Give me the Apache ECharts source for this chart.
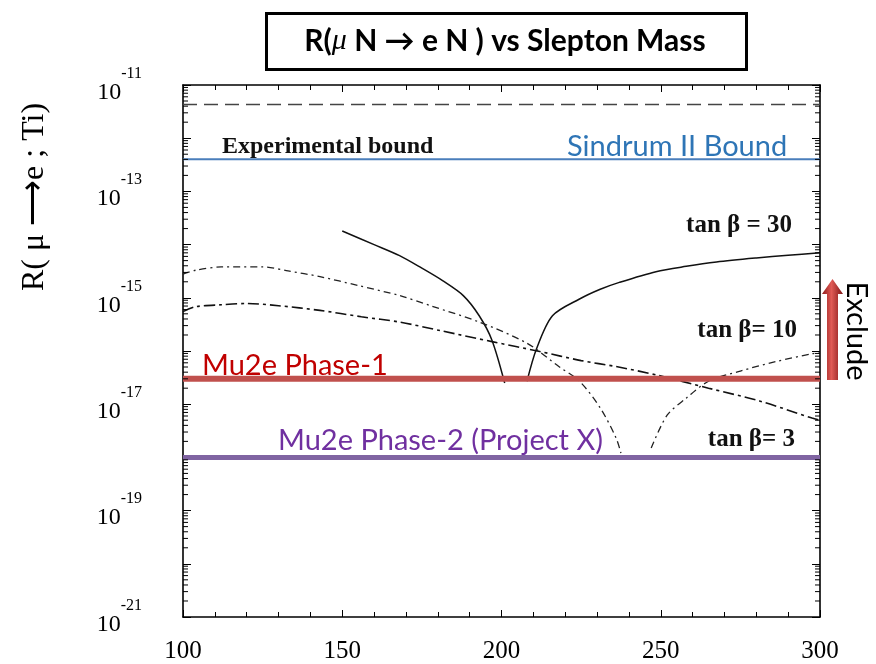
<!DOCTYPE html>
<html>
<head>
<meta charset="utf-8">
<script src="https://cdn.jsdelivr.net/npm/echarts@6/dist/echarts.min.js"></script>
<style>
  html, body { margin: 0; padding: 0; background: #fff; }
  #chart { width: 876px; height: 664px; }
</style>
</head>
<body>
<div id="chart"></div>
<script>
'use strict';
/* R(mu N -> e N) vs slepton mass */

// slepton mass (GeV) and conversion rate
var massT30a = [150, 160, 168, 175, 181.5, 188, 193, 197, 201];
var rateT30a = [1.8e-14, 1.0e-14, 6.2e-15, 3.6e-15, 2.1e-15, 1.1e-15, 4.6e-16, 1.6e-16, 2.5e-17];
var massT30b = [208, 211, 216, 224.5, 231, 237, 248.5, 258, 267.5, 280, 290, 300];
var rateT30b = [2.7e-17, 1.1e-16, 4.6e-16, 9.5e-16, 1.45e-15, 1.95e-15, 3.1e-15, 3.9e-15, 4.7e-15, 5.6e-15, 6.3e-15, 7.0e-15];

var massT10a = [100, 104, 112, 125, 133, 143, 155, 168, 178, 193, 208, 218, 224.5, 231, 236, 237.5];
var rateT10a = [2.8e-15, 3.3e-15, 3.8e-15, 3.8e-15, 3.2e-15, 2.5e-15, 1.7e-15, 1.1e-15, 7.0e-16, 3.5e-16, 1.4e-16, 5.1e-17, 2.7e-17, 8.5e-18, 2.3e-18, 1.2e-18];
var massT10b = [247, 252, 258, 265, 275, 286, 297.5, 300];
var rateT10b = [1.5e-18, 6.2e-18, 1.3e-17, 2.7e-17, 4.2e-17, 6.3e-17, 8.9e-17, 9.3e-17];

var massT3 = [100, 104, 112, 120, 130, 143, 156, 168, 181, 197, 212, 225, 236, 249, 265, 281, 297.5, 300];
var rateT3 = [5.5e-16, 6.8e-16, 7.4e-16, 7.8e-16, 7.1e-16, 5.8e-16, 4.4e-16, 3.5e-16, 2.4e-16, 1.5e-16, 9.8e-17, 6.6e-17, 5.1e-17, 3.5e-17, 2.0e-17, 1.15e-17, 5.5e-18, 5.0e-18];

// horizontal bounds
var boundMass = [100, 300];
var expBound = 4.3e-12;
var sindrumBound = 4.0e-13;
var mu2ePhase1 = 3.0e-17;
var mu2ePhase2 = 1.0e-18;

// axis ranges (y in powers of ten)
var xMin = 100, xMax = 300;
var yMinExp = -21, yMaxExp = -11;

function lg(v) {
  return Math.log(v) / Math.LN10;
}

// log10 axis is drawn on the exponent
function pairs(xs, ys) {
  var out = [];
  for (var i = 0; i < xs.length; i++) {
    out.push([xs[i], lg(ys[i])]);
  }
  return out;
}

function flat(v) {
  return pairs(boundMass, [v, v]);
}

// log minor tick positions 2..9 within each decade
var minorTicks = [];
for (var d = yMinExp; d < yMaxExp; d++) {
  for (var k = 2; k <= 9; k++) {
    minorTicks.push(d + lg(k));
  }
}

var serif = 'Liberation Serif';
var sans = 'Lato';

var chart = echarts.init(document.getElementById('chart'));

function curve(data, color, width, dash) {
  return {
    type: 'line',
    data: data,
    showSymbol: false,
    symbol: 'none',
    smooth: 0.3,
    silent: true,
    z: 3,
    lineStyle: { color: color, width: width, type: dash }
  };
}

function hline(v, color, width, dash, z) {
  return {
    type: 'line',
    data: flat(v),
    showSymbol: false,
    symbol: 'none',
    silent: true,
    z: z,
    lineStyle: { color: color, width: width, type: dash }
  };
}

var tickStyle = { color: '#000', width: 1 };

var option = {
  backgroundColor: '#fff',
  animation: false,
  grid: { left: 183, right: 56, top: 85, bottom: 44 },
  xAxis: [{
    type: 'value',
    min: xMin, max: xMax, interval: 50,
    axisLine: { lineStyle: { color: '#000', width: 1.6 } },
    axisTick: { inside: true, length: 7, lineStyle: tickStyle },
    minorTick: { show: true, splitNumber: 5, length: 5, lineStyle: tickStyle },
    splitLine: { show: false },
    axisLabel: { margin: 22, color: '#000', fontFamily: serif, fontSize: 25 }
  }, {
    type: 'value', position: 'top',
    min: xMin, max: xMax, interval: 50,
    axisLine: { lineStyle: { color: '#000', width: 1.6 } },
    axisTick: { inside: true, length: 7, lineStyle: tickStyle },
    minorTick: { show: true, splitNumber: 5, length: 5, lineStyle: tickStyle },
    splitLine: { show: false },
    axisLabel: { show: false }
  }],
  yAxis: [{
    type: 'value',
    min: yMinExp, max: yMaxExp, interval: 1,
    axisLine: { lineStyle: { color: '#000', width: 1.6 } },
    axisTick: { inside: true, length: 8, lineStyle: tickStyle },
    splitLine: { show: false },
    axisLabel: {
      margin: 41, align: 'right',
      formatter: function (v) {
        if (Math.abs(v % 2) !== 1) return '';
        return '{b|10}{s|' + v + '}';
      },
      rich: {
        b: { fontFamily: serif, fontSize: 24, color: '#000', verticalAlign: 'bottom', padding: [15, 0, 0, 0] },
        s: { fontFamily: serif, fontSize: 16, color: '#000', verticalAlign: 'top' }
      }
    }
  }, {
    type: 'value', position: 'right',
    min: yMinExp, max: yMaxExp, interval: 1,
    axisLine: { lineStyle: { color: '#000', width: 1.6 } },
    axisTick: { inside: true, length: 8, lineStyle: tickStyle },
    splitLine: { show: false },
    axisLabel: { show: false }
  }],
  series: [
    {
      // log minor ticks on both sides
      type: 'custom',
      silent: true,
      clip: false,
      z: 6,
      data: [0],
      renderItem: function (params, api) {
        var kids = [];
        for (var i = 0; i < minorTicks.length; i++) {
          var l = api.coord([xMin, minorTicks[i]]);
          var r = api.coord([xMax, minorTicks[i]]);
          kids.push({ type: 'line', shape: { x1: l[0], y1: l[1], x2: l[0] + 5, y2: l[1] }, style: { stroke: '#000', lineWidth: 1 } });
          kids.push({ type: 'line', shape: { x1: r[0], y1: r[1], x2: r[0] - 5, y2: r[1] }, style: { stroke: '#000', lineWidth: 1 } });
        }
        return { type: 'group', children: kids };
      }
    },
    hline(expBound, '#444', 1.3, [14, 7], 2),
    hline(sindrumBound, '#4a7ebb', 2, 'solid', 4),
    hline(mu2ePhase1, '#c0504d', 6, 'solid', 4),
    hline(mu2ePhase2, '#8064a2', 5, 'solid', 4),
    curve(pairs(massT30a, rateT30a), '#111', 1.5, 'solid'),
    curve(pairs(massT30b, rateT30b), '#111', 1.5, 'solid'),
    curve(pairs(massT10a, rateT10a), '#222', 1.3, [7, 4, 2, 4]),
    curve(pairs(massT10b, rateT10b), '#222', 1.3, [7, 4, 2, 4]),
    curve(pairs(massT3, rateT3), '#111', 1.6, [11, 4, 3, 4])
  ],
  graphic: [
    // title box
    {
      type: 'rect', left: 265, top: 12, z: 10,
      shape: { width: 480, height: 56 },
      style: { fill: '#fff', stroke: '#000', lineWidth: 3 }
    },
    {
      type: 'text', x: 505, y: 41, z: 11,
      style: {
        text: '{n|R(}{m|μ}{n| N → e N ) vs Slepton Mass}',
        textAlign: 'center', textVerticalAlign: 'middle',
        rich: {
          n: { fontFamily: sans, fontWeight: 'bold', fontSize: 30, fill: '#000' },
          m: { fontFamily: serif, fontStyle: 'italic', fontSize: 30, fill: '#000' }
        }
      }
    },
    // y axis name
    {
      type: 'text', x: 35, y: 197, rotation: Math.PI / 2, z: 11,
      style: {
        text: 'R( μ ⟶e ; Ti)', font: '32px "Liberation Serif"', fill: '#000',
        textAlign: 'center', textVerticalAlign: 'middle'
      }
    },
    // annotations
    {
      type: 'text', x: 222, y: 147, z: 11,
      style: { text: 'Experimental bound', font: 'bold 24px "Liberation Serif"', fill: '#111',
        textAlign: 'left', textVerticalAlign: 'middle' }
    },
    {
      type: 'text', x: 567, y: 147, z: 11,
      style: { text: 'Sindrum II Bound', font: '29px Lato', fill: '#2e75b6',
        textAlign: 'left', textVerticalAlign: 'middle' }
    },
    {
      type: 'text', x: 792, y: 226, z: 11,
      style: { text: 'tan β = 30', font: 'bold 25px "Liberation Serif"', fill: '#111',
        textAlign: 'right', textVerticalAlign: 'middle' }
    },
    {
      type: 'text', x: 797, y: 331, z: 11,
      style: { text: 'tan β= 10', font: 'bold 25px "Liberation Serif"', fill: '#111',
        textAlign: 'right', textVerticalAlign: 'middle' }
    },
    {
      type: 'text', x: 795, y: 440, z: 11,
      style: { text: 'tan β= 3', font: 'bold 25px "Liberation Serif"', fill: '#111',
        textAlign: 'right', textVerticalAlign: 'middle' }
    },
    {
      type: 'text', x: 202, y: 366, z: 11,
      style: { text: 'Mu2e Phase-1', font: '29px Lato', fill: '#c00000',
        textAlign: 'left', textVerticalAlign: 'middle' }
    },
    {
      type: 'text', x: 278, y: 441, z: 11,
      style: { text: 'Mu2e Phase-2 (Project X)', font: '29px Lato', fill: '#7030a0',
        textAlign: 'left', textVerticalAlign: 'middle' }
    },
    // exclude arrow
    {
      type: 'polygon', z: 11,
      shape: { points: [[832.5, 279], [822, 294], [827, 294], [827, 380], [838, 380], [838, 294], [843, 294]] },
      style: {
        fill: {
          type: 'linear', x: 0, y: 0, x2: 1, y2: 0,
          colorStops: [
            { offset: 0, color: '#8e1b1b' },
            { offset: 0.45, color: '#e05a55' },
            { offset: 1, color: '#7e1414' }
          ]
        }
      }
    },
    {
      type: 'text', x: 856, y: 331, rotation: -Math.PI / 2, z: 11,
      style: { text: 'Exclude', font: '29px Lato', fill: '#000',
        textAlign: 'center', textVerticalAlign: 'middle' }
    }
  ]
};

chart.setOption(option);
</script>
</body>
</html>
